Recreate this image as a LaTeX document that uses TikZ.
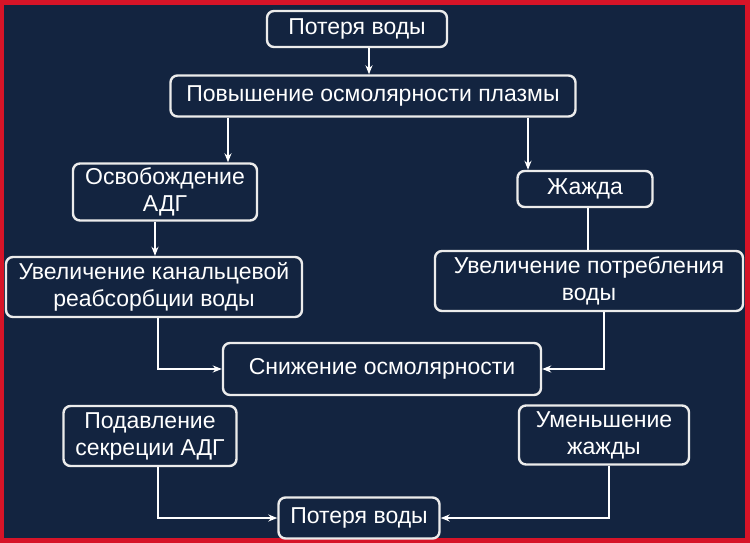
\documentclass[tikz,border=0pt]{standalone}
\usepackage{fontspec}
\setmainfont{Liberation Sans}
\usepackage{tikz}
\usetikzlibrary{positioning,arrows.meta}
\usepackage{xcolor}
\definecolor{navy}{RGB}{19,36,64}
\definecolor{frame}{RGB}{214,20,40}

\begin{document}
\begin{tikzpicture}[
    x=1pt, y=-1pt,
    box/.style={draw=white!85!gray, line width=2.4pt, rounded corners=7pt,
                fill=navy, text=white, align=center, inner sep=0pt,
                font=\fontsize{23}{27}\selectfont},
    arr/.style={draw=white, line width=1.8pt,
                -{Stealth[length=9pt,width=7pt]}},
    lnk/.style={draw=white, line width=1.8pt}
]

% Frame and background
\fill[frame] (0,0) rectangle (750,543);
\fill[navy] (4,5) rectangle (745,538);

% Top part
\node[box, minimum width=180pt, minimum height=36pt] (top) at (357,29) {Потеря воды};
\node[box, minimum width=405pt, minimum height=41pt] (plasma) at (373,96)
    {Повышение осмолярности плазмы};

% Left branch (ADH)
\node[box, minimum width=184pt, minimum height=57pt] (adh) at (165,192)
    {Освобождение\\АДГ};
\node[box, minimum width=296pt, minimum height=60pt] (reabs) at (154,287)
    {Увеличение канальцевой\\реабсорбции воды};

% Right branch (thirst)
\node[box, minimum width=135pt, minimum height=36pt] (thirst) at (585,189) {Жажда};
\node[box, minimum width=308pt, minimum height=60pt] (intake) at (589,281)
    {Увеличение потребления\\воды};

% Result
\node[box, minimum width=318pt, minimum height=52pt] (drop) at (382,369)
    {Снижение осмолярности};

% Feedback
\node[box, minimum width=173pt, minimum height=60pt] (suppr) at (150,436)
    {Подавление\\секреции АДГ};
\node[box, minimum width=170pt, minimum height=59pt] (less) at (604,435)
    {Уменьшение\\жажды};
\node[box, minimum width=161pt, minimum height=41pt] (loss) at (359,518) {Потеря воды};

% Connectors
\draw[arr] (369,0 |- top.south) -- (369,0 |- plasma.north);
\draw[arr] (228,0 |- plasma.south) -- (228,0 |- adh.north);
\draw[arr] (528,0 |- plasma.south) -- (528,0 |- thirst.north);
\draw[arr] (155,0 |- adh.south) -- (155,0 |- reabs.north);
\draw[lnk] (588,0 |- thirst.south) -- (588,0 |- intake.north);
\draw[arr] (158,0 |- reabs.south) |- (drop.west);
\draw[arr] (604,0 |- intake.south) |- (drop.east);
\draw[arr] (158,0 |- suppr.south) |- (loss.west);
\draw[arr] (609,0 |- less.south) |- (loss.east);

\end{tikzpicture}
\end{document}
